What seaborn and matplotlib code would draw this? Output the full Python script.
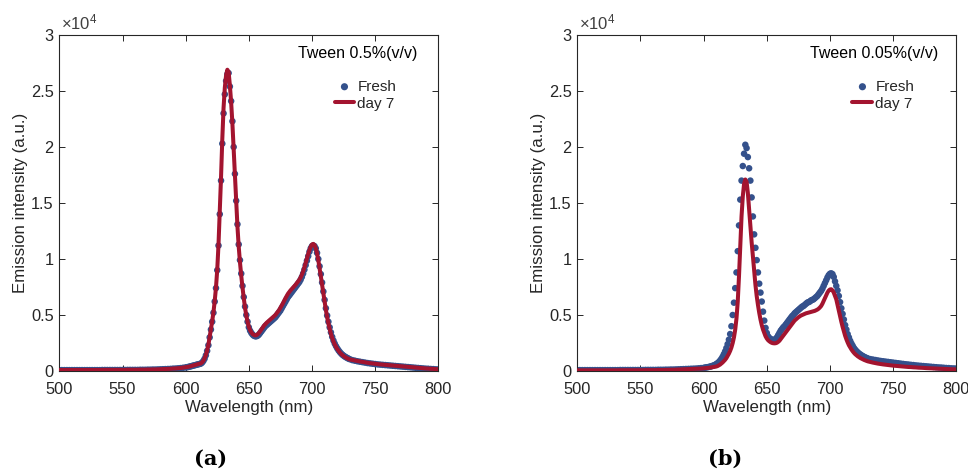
import numpy as np
import pandas as pd
import matplotlib
matplotlib.use("Agg")
import matplotlib.pyplot as plt
import seaborn as sns

# ---------------- data (intensity in units of 1e4 a.u.) ----------------
# wavelength grid: 500-600 step 2, 601-730 step 1, 732-800 step 2
wl_seg1 = list(range(500, 601, 2))
wl_seg2 = list(range(601, 731, 1))
wl_seg3 = list(range(732, 801, 2))
wavelength = wl_seg1 + wl_seg2 + wl_seg3

a_fresh_seg1 = [0.008, 0.008, 0.008, 0.008, 0.008, 0.008, 0.008, 0.008, 0.008, 0.008,
                0.008, 0.008, 0.008, 0.008, 0.008, 0.008, 0.008, 0.009, 0.009, 0.009,
                0.009, 0.009, 0.009, 0.009, 0.009, 0.009, 0.009, 0.010, 0.010, 0.010,
                0.010, 0.010, 0.011, 0.011, 0.011, 0.012, 0.012, 0.013, 0.013, 0.014,
                0.015, 0.016, 0.017, 0.018, 0.019, 0.021, 0.022, 0.024, 0.026, 0.029,
                0.032]
a_fresh_seg2 = [0.034, 0.036, 0.039, 0.042, 0.045, 0.048, 0.051, 0.054, 0.057, 0.060,
                0.063, 0.066, 0.075, 0.09, 0.11, 0.14, 0.18, 0.23, 0.30, 0.37,
                0.44, 0.52, 0.62, 0.74, 0.90, 1.12, 1.40, 1.70, 2.03, 2.30,
                2.47, 2.59, 2.65, 2.66, 2.54, 2.41, 2.23, 2.00, 1.76, 1.52,
                1.31, 1.13, 0.99, 0.87, 0.76, 0.66, 0.575, 0.50, 0.44, 0.39,
                0.36, 0.34, 0.325, 0.315, 0.31, 0.31, 0.315, 0.325, 0.34, 0.355,
                0.37, 0.385, 0.40, 0.41, 0.42, 0.43, 0.44, 0.45, 0.46, 0.47,
                0.48, 0.495, 0.51, 0.525, 0.54, 0.56, 0.58, 0.60, 0.62, 0.64,
                0.66, 0.675, 0.69, 0.705, 0.72, 0.735, 0.75, 0.765, 0.78, 0.795,
                0.815, 0.84, 0.87, 0.905, 0.945, 0.985, 1.025, 1.065, 1.095, 1.115,
                1.12, 1.115, 1.095, 1.055, 1.00, 0.935, 0.865, 0.79, 0.71, 0.635,
                0.56, 0.495, 0.44, 0.39, 0.345, 0.305, 0.272, 0.245, 0.222, 0.202,
                0.185, 0.17, 0.157, 0.146, 0.137, 0.129, 0.122, 0.116, 0.11, 0.105]
a_fresh_seg3 = [0.097, 0.092, 0.087, 0.083, 0.079, 0.075, 0.071, 0.068, 0.065, 0.062,
                0.059, 0.057, 0.055, 0.053, 0.051, 0.049, 0.047, 0.045, 0.043, 0.041,
                0.039, 0.037, 0.035, 0.033, 0.031, 0.029, 0.027, 0.025, 0.023, 0.021,
                0.020, 0.018, 0.017, 0.015, 0.014]

a_day7_seg1 = [0.009, 0.009, 0.009, 0.009, 0.009, 0.009, 0.009, 0.009, 0.009, 0.009,
               0.009, 0.009, 0.009, 0.009, 0.009, 0.009, 0.009, 0.010, 0.010, 0.010,
               0.010, 0.010, 0.010, 0.010, 0.010, 0.010, 0.010, 0.011, 0.011, 0.011,
               0.011, 0.011, 0.012, 0.012, 0.012, 0.013, 0.013, 0.014, 0.014, 0.015,
               0.016, 0.017, 0.018, 0.019, 0.020, 0.022, 0.023, 0.025, 0.027, 0.030,
               0.033]
a_day7_seg2 = [0.035, 0.037, 0.040, 0.043, 0.046, 0.049, 0.052, 0.055, 0.058, 0.061,
               0.064, 0.068, 0.077, 0.092, 0.113, 0.143, 0.184, 0.235, 0.305, 0.375,
               0.445, 0.525, 0.625, 0.745, 0.905, 1.13, 1.42, 1.73, 2.07, 2.35,
               2.53, 2.64, 2.69, 2.67, 2.55, 2.40, 2.21, 1.98, 1.74, 1.50,
               1.29, 1.11, 0.97, 0.85, 0.745, 0.65, 0.565, 0.495, 0.44, 0.395,
               0.365, 0.345, 0.33, 0.322, 0.318, 0.32, 0.328, 0.34, 0.355, 0.372,
               0.39, 0.405, 0.418, 0.43, 0.44, 0.45, 0.46, 0.47, 0.48, 0.49,
               0.50, 0.515, 0.53, 0.545, 0.565, 0.585, 0.605, 0.628, 0.65, 0.67,
               0.69, 0.705, 0.72, 0.733, 0.745, 0.757, 0.77, 0.785, 0.80, 0.815,
               0.835, 0.86, 0.89, 0.925, 0.965, 1.005, 1.045, 1.08, 1.11, 1.13,
               1.135, 1.125, 1.095, 1.05, 0.99, 0.92, 0.845, 0.77, 0.69, 0.615,
               0.545, 0.48, 0.425, 0.375, 0.332, 0.295, 0.264, 0.238, 0.216, 0.197,
               0.181, 0.166, 0.154, 0.143, 0.134, 0.126, 0.119, 0.113, 0.108, 0.103]
a_day7_seg3 = [0.099, 0.094, 0.089, 0.085, 0.081, 0.077, 0.073, 0.070, 0.067, 0.064,
               0.061, 0.059, 0.057, 0.055, 0.053, 0.051, 0.049, 0.047, 0.045, 0.043,
               0.041, 0.039, 0.037, 0.035, 0.033, 0.031, 0.029, 0.027, 0.025, 0.023,
               0.022, 0.020, 0.019, 0.017, 0.016]

b_fresh_seg1 = [0.008, 0.008, 0.008, 0.008, 0.008, 0.008, 0.008, 0.008, 0.008, 0.008,
                0.008, 0.008, 0.008, 0.008, 0.008, 0.008, 0.008, 0.009, 0.009, 0.009,
                0.009, 0.009, 0.009, 0.009, 0.009, 0.009, 0.009, 0.010, 0.010, 0.010,
                0.010, 0.010, 0.011, 0.011, 0.011, 0.012, 0.012, 0.013, 0.013, 0.014,
                0.015, 0.016, 0.017, 0.018, 0.019, 0.020, 0.021, 0.022, 0.024, 0.026,
                0.028]
b_fresh_seg2 = [0.030, 0.032, 0.034, 0.036, 0.039, 0.042, 0.046, 0.050, 0.055, 0.062,
                0.070, 0.080, 0.093, 0.108, 0.127, 0.150, 0.175, 0.205, 0.24, 0.28,
                0.33, 0.40, 0.50, 0.61, 0.74, 0.88, 1.07, 1.30, 1.53, 1.70,
                1.83, 1.94, 2.02, 1.99, 1.91, 1.81, 1.70, 1.55, 1.38, 1.22,
                1.10, 0.99, 0.88, 0.78, 0.70, 0.62, 0.53, 0.45, 0.385, 0.34,
                0.31, 0.295, 0.285, 0.28, 0.277, 0.278, 0.285, 0.30, 0.32, 0.34,
                0.36, 0.375, 0.39, 0.40, 0.415, 0.43, 0.445, 0.46, 0.475, 0.49,
                0.50, 0.515, 0.525, 0.535, 0.545, 0.555, 0.565, 0.575, 0.58, 0.59,
                0.60, 0.61, 0.615, 0.62, 0.63, 0.635, 0.64, 0.65, 0.66, 0.67,
                0.685, 0.70, 0.715, 0.735, 0.76, 0.785, 0.81, 0.835, 0.855, 0.868,
                0.872, 0.865, 0.84, 0.80, 0.76, 0.72, 0.67, 0.615, 0.56, 0.51,
                0.46, 0.41, 0.37, 0.33, 0.30, 0.27, 0.245, 0.225, 0.205, 0.19,
                0.177, 0.166, 0.156, 0.148, 0.14, 0.133, 0.127, 0.121, 0.116, 0.112]
b_fresh_seg3 = [0.106, 0.102, 0.098, 0.094, 0.090, 0.087, 0.084, 0.081, 0.078, 0.075,
                0.072, 0.069, 0.066, 0.063, 0.060, 0.058, 0.055, 0.053, 0.050, 0.048,
                0.046, 0.044, 0.042, 0.040, 0.038, 0.036, 0.034, 0.032, 0.031, 0.029,
                0.027, 0.026, 0.024, 0.023, 0.022]

b_day7_seg1 = [0.006, 0.006, 0.006, 0.006, 0.006, 0.006, 0.006, 0.006, 0.006, 0.006,
               0.006, 0.006, 0.006, 0.006, 0.006, 0.006, 0.006, 0.007, 0.007, 0.007,
               0.007, 0.007, 0.007, 0.007, 0.007, 0.007, 0.007, 0.008, 0.008, 0.008,
               0.008, 0.008, 0.009, 0.009, 0.009, 0.010, 0.010, 0.011, 0.011, 0.012,
               0.013, 0.014, 0.015, 0.016, 0.017, 0.018, 0.019, 0.020, 0.021, 0.022,
               0.024]
b_day7_seg2 = [0.025, 0.026, 0.027, 0.028, 0.030, 0.031, 0.033, 0.035, 0.037, 0.040,
               0.044, 0.050, 0.057, 0.066, 0.076, 0.088, 0.100, 0.115, 0.135, 0.155,
               0.18, 0.21, 0.25, 0.30, 0.37, 0.47, 0.62, 0.85, 1.12, 1.38,
               1.56, 1.67, 1.71, 1.69, 1.59, 1.44, 1.28, 1.15, 1.02, 0.89,
               0.77, 0.67, 0.59, 0.52, 0.46, 0.41, 0.37, 0.34, 0.31, 0.29,
               0.275, 0.265, 0.257, 0.251, 0.248, 0.247, 0.248, 0.252, 0.26, 0.27,
               0.285, 0.30, 0.315, 0.33, 0.345, 0.36, 0.375, 0.39, 0.405, 0.42,
               0.435, 0.45, 0.46, 0.47, 0.48, 0.488, 0.495, 0.50, 0.505, 0.51,
               0.515, 0.518, 0.521, 0.524, 0.527, 0.53, 0.533, 0.537, 0.542, 0.548,
               0.556, 0.567, 0.58, 0.60, 0.625, 0.65, 0.675, 0.70, 0.718, 0.728,
               0.73, 0.72, 0.70, 0.67, 0.64, 0.59, 0.54, 0.49, 0.44, 0.395,
               0.355, 0.315, 0.283, 0.255, 0.23, 0.21, 0.192, 0.176, 0.162, 0.150,
               0.140, 0.131, 0.123, 0.116, 0.110, 0.104, 0.099, 0.094, 0.090, 0.086]
b_day7_seg3 = [0.080, 0.075, 0.070, 0.066, 0.062, 0.059, 0.056, 0.053, 0.050, 0.048,
               0.046, 0.044, 0.042, 0.040, 0.038, 0.036, 0.035, 0.033, 0.032, 0.030,
               0.029, 0.028, 0.026, 0.025, 0.024, 0.023, 0.022, 0.021, 0.020, 0.019,
               0.018, 0.017, 0.016, 0.015, 0.014]

a_fresh = a_fresh_seg1 + a_fresh_seg2 + a_fresh_seg3
a_day7 = a_day7_seg1 + a_day7_seg2 + a_day7_seg3
b_fresh = b_fresh_seg1 + b_fresh_seg2 + b_fresh_seg3
b_day7 = b_day7_seg1 + b_day7_seg2 + b_day7_seg3

panel_titles = ["Tween 0.5%(v/v)", "Tween 0.05%(v/v)"]
panel_tags = ["(a)", "(b)"]
x_ticks = [500, 550, 600, 650, 700, 750, 800]
y_ticks = [0, 0.5, 1, 1.5, 2, 2.5, 3]
y_tick_labels = ["0", "0.5", "1", "1.5", "2", "2.5", "3"]

# ---------------- style ----------------
sns.set_theme(style="ticks")
plt.rcParams["font.family"] = ["Liberation Sans", "DejaVu Sans"]
plt.rcParams["mathtext.fontset"] = "custom"
plt.rcParams["mathtext.rm"] = "Liberation Sans"
plt.rcParams["mathtext.it"] = "Liberation Sans:italic"

TXT = "#262626"
BLUE = "#34518c"
RED = "#a3142f"

fig = plt.figure(figsize=(9.68, 4.71), dpi=100)
axes = [fig.add_axes([0.0613, 0.2123, 0.3915, 0.7134]),
        fig.add_axes([0.5964, 0.2123, 0.3915, 0.7134])]

datasets = [(a_fresh, a_day7), (b_fresh, b_day7)]
title_x = [0.944, 0.952]
tag_x = [0.218, 0.749]

for i, ax in enumerate(axes):
    fresh, day7 = datasets[i]
    df = pd.DataFrame({"wl": wavelength, "fresh": fresh, "day7": day7})
    sns.scatterplot(data=df, x="wl", y="fresh", ax=ax, color=BLUE, s=22,
                    edgecolor="none", linewidth=0, label="Fresh", zorder=2)
    sns.lineplot(data=df, x="wl", y="day7", ax=ax, color=RED, linewidth=2.9,
                 label="day 7", sort=False, zorder=3)
    ax.set_xlim(500, 800)
    ax.set_ylim(0, 3)
    ax.set_xticks(x_ticks)
    ax.set_yticks(y_ticks)
    ax.set_yticklabels(y_tick_labels)
    ax.tick_params(direction="in", top=True, right=True, length=4, width=0.7,
                   colors=TXT, labelsize=11.8)
    ax.tick_params(axis="x", pad=8)
    ax.tick_params(axis="y", pad=4)
    for sp in ax.spines.values():
        sp.set_linewidth(0.8)
        sp.set_color(TXT)
    ax.set_xlabel("Wavelength (nm)", fontsize=12.2, color=TXT, labelpad=2)
    ax.set_ylabel("Emission intensity (a.u.)", fontsize=12.2, color=TXT, labelpad=2)
    ax.text(0.005, 1.008, r"$\times10^{4}$", transform=ax.transAxes, ha="left",
            va="bottom", fontsize=12, color="#404040")
    ax.text(title_x[i], 0.946, panel_titles[i], transform=ax.transAxes,
            ha="right", va="center", fontsize=11.5, color="black")
    leg = ax.legend(loc="upper left", bbox_to_anchor=(0.71, 0.885), frameon=False,
                    fontsize=11, handlelength=1.3, handletextpad=0.2,
                    labelspacing=0.2, borderaxespad=0, markerscale=1.1)
    for t in leg.get_texts():
        t.set_color(TXT)
    fig.text(tag_x[i], 0.004, panel_tags[i], ha="center", va="bottom",
             fontsize=15, fontweight="bold", family="DejaVu Serif", color="black")

fig.savefig("out.png", dpi=100)
